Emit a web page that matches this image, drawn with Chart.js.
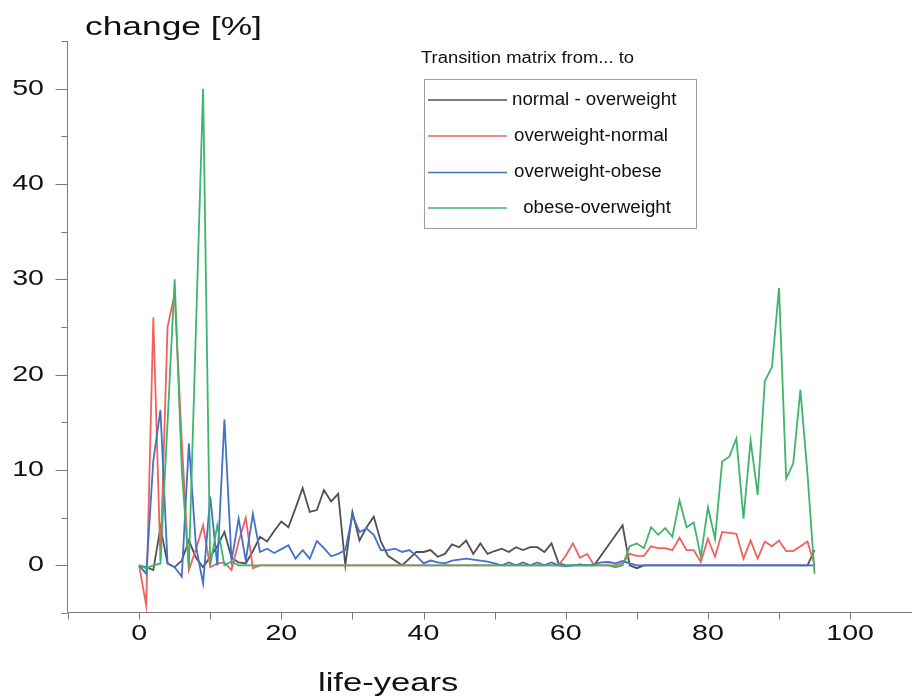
<!DOCTYPE html>
<html>
<head>
<meta charset="utf-8">
<script src="https://cdn.jsdelivr.net/npm/chart.js@4.4.1/dist/chart.umd.min.js"></script>
<style>
  body { margin: 0; background: #fff; }
  canvas { display: block; }
</style>
</head>
<body>
<canvas id="myChart" width="912" height="697"></canvas>
<script>
// life-years 0..95
const ages = Array.from({ length: 96 }, (_, i) => i);

const normalOverweight = [
  0, -0.2, -0.5, 4.0, 0.2, -0.2, 0.5, 2.6, 0.8, -0.2,
  0.9, 2.0, 3.5, 0.8, 0.3, 0.2, 1.5, 3.0, 2.5, 3.6,
  4.6, 4.0, 6.0, 8.1, 5.6, 5.8, 7.9, 6.7, 7.5, 0,
  5.6, 2.6, 4.0, 5.1, 2.5, 1.0, 0.5, 0, 0.7, 1.4,
  1.4, 1.6, 0.9, 1.2, 2.2, 1.9, 2.6, 1.2, 2.3, 1.2,
  1.5, 1.75, 1.4, 1.9, 1.6, 1.9, 1.9, 1.4, 2.3, 0.2,
  0, 0, 0, 0, 0, 1.05, 2.1, 3.15, 4.2, 0,
  -0.3, 0, 0, 0, 0, 0, 0, 0, 0, 0,
  0, 0, 0, 0, 0, 0, 0, 0, 0, 0,
  0, 0, 0, 0, 0, 1.6
];

const overweightNormal = [
  0, -4.2, 26, 0.5, 25, 28.5, 13, -0.5, 1.7, 4.2,
  -0.2, 0.2, 0.3, -0.5, 2.5, 5, -0.3, 0, 0, 0,
  0, 0, 0, 0, 0, 0, 0, 0, 0, 0,
  0, 0, 0, 0, 0, 0, 0, 0, 0, 0,
  0, 0, 0, 0, 0, 0, 0, 0, 0, 0,
  0, 0, 0, 0, 0, 0, 0, 0, 0, 0,
  1.0, 2.3, 0.8, 1.2, 0, 0, 0, 0, 0.2, 1.2,
  1.0, 1.0, 2.0, 1.8, 1.8, 1.6, 2.9, 1.6, 1.6, 0.35,
  2.8, 0.9, 3.5, 3.4, 3.3, 0.7, 2.6, 0.7, 2.5, 2.0,
  2.6, 1.5, 1.5, 2.0, 2.5, 0
];

const overweightObese = [
  0, -0.9, 11, 16.3, 0.2, -0.2, -1.2, 12.8, 2, -1.9,
  7.2, 0, 15.3, 0.5, 4.9, 0.5, 5.4, 1.4, 1.75, 1.3,
  1.7, 2.1, 0.7, 1.6, 0.7, 2.55, 1.8, 0.95, 1.2, 1.6,
  5.25, 3.5, 3.85, 3.2, 1.6, 1.6, 1.75, 1.4, 1.6, 1.0,
  0.2, 0.5, 0.3, 0.2, 0.5, 0.6, 0.7, 0.6, 0.5, 0.4,
  0.2, 0, 0.3, 0, 0.3, 0, 0.3, 0, 0.3, 0,
  -0.1, 0, 0.1, 0, 0.1, 0.3, 0.35, 0.2, 0.45, 0.2,
  0, 0, 0, 0, 0, 0, 0, 0, 0, 0,
  0, 0, 0, 0, 0, 0, 0, 0, 0, 0,
  0, 0, 0, 0, 0, 0
];

const obeseOverweight = [
  0, -0.3, 0, 0.2, 15, 30, 10, -0.3, 25, 50,
  0, 4.2, 0, 0.4, 0, 0, 0, 0, 0, 0,
  0, 0, 0, 0, 0, 0, 0, 0, 0, 0,
  0, 0, 0, 0, 0, 0, 0, 0, 0, 0,
  0, 0, 0, 0, 0, 0, 0, 0, 0, 0,
  0, 0, 0, 0, 0, 0, 0, 0, 0, 0,
  0, 0, 0, 0, 0, 0, 0, -0.2, 0, 2.0,
  2.3, 1.8, 4.0, 3.2, 3.9, 3.0, 6.8, 4.0, 4.5, 0.9,
  6.1, 2.8, 10.9, 11.4, 13.3, 4.9, 13.1, 7.4, 19.3, 20.8,
  29.1, 9.1, 10.7, 18.4, 9.6, -0.9
];

const seriesNames = ['normal - overweight', 'overweight-normal', 'overweight-obese', ' obese-overweight'];
const seriesColors = ['#505050', '#f26060', '#4272c8', '#3db56c'];
const legendTitle = 'Transition matrix from... to';
const yTitle = 'change [%]';
const xTitle = 'life-years';

const xTicks = [-10, 0, 10, 20, 30, 40, 50, 60, 70, 80, 90, 100];
const xTickLabels = ['0', '20', '40', '60', '80', '100'];
const yTicks = [-5, 0, 5, 10, 15, 20, 25, 30, 35, 40, 45, 50, 55];
const yTickLabels = ['0', '10', '20', '30', '40', '50'];

// text drawn a bit wider than the font, like the original picture
function wideText(ctx, text, x, y, sx, align) {
  ctx.save();
  ctx.translate(x, y);
  ctx.scale(sx, 1);
  ctx.textAlign = align;
  ctx.fillText(text, 0, 0);
  ctx.restore();
}

const decor = {
  id: 'decor',
  afterDraw(chart) {
    const ctx = chart.ctx;
    const a = chart.chartArea;
    const xs = chart.scales.x, ys = chart.scales.y;
    ctx.save();

    // axis lines and tick marks
    ctx.strokeStyle = '#7a7a7a';
    ctx.lineWidth = 1;
    ctx.beginPath();
    const left = Math.round(a.left) - 0.5;
    const bottom = Math.round(a.bottom) - 0.5;
    ctx.moveTo(left, a.top);
    ctx.lineTo(left, bottom);
    ctx.lineTo(a.right, bottom);
    yTicks.forEach(v => {
      const py = Math.round(ys.getPixelForValue(v)) + 0.5;
      const len = v % 10 === 0 ? 12 : 6;
      ctx.moveTo(left - len, py);
      ctx.lineTo(left, py);
    });
    xTicks.forEach(v => {
      const px = Math.round(xs.getPixelForValue(v)) + 0.5;
      ctx.moveTo(px, bottom);
      ctx.lineTo(px, bottom + 7);
    });
    ctx.stroke();

    // tick labels
    ctx.fillStyle = '#111';
    ctx.textBaseline = 'middle';
    ctx.font = '22px "Liberation Sans", Arial, sans-serif';
    yTickLabels.forEach(t => {
      wideText(ctx, t, 44, ys.getPixelForValue(Number(t)), 1.3, 'right');
    });
    xTickLabels.forEach(t => {
      wideText(ctx, t, xs.getPixelForValue(Number(t)), 634, 1.3, 'center');
    });

    // axis titles
    ctx.font = '26px "Liberation Sans", Arial, sans-serif';
    wideText(ctx, yTitle, 85, 28, 1.36, 'left');
    wideText(ctx, xTitle, 318, 684, 1.33, 'left');

    // legend
    ctx.font = '16px "Liberation Sans", Arial, sans-serif';
    wideText(ctx, legendTitle, 421, 59, 1.15, 'left');
    ctx.strokeStyle = '#a0a0a0';
    ctx.strokeRect(424.5, 79.5, 272, 149);
    const rowsY = [100, 136, 172.5, 208];
    const textX = [512, 514, 514, 518];
    ctx.font = '18px "Liberation Sans", Arial, sans-serif';
    seriesNames.forEach((name, i) => {
      ctx.strokeStyle = seriesColors[i];
      ctx.lineWidth = 1.5;
      ctx.beginPath();
      ctx.moveTo(428, rowsY[i]);
      ctx.lineTo(507, rowsY[i]);
      ctx.stroke();
      ctx.fillStyle = '#111';
      wideText(ctx, name, textX[i], rowsY[i], 1.04, 'left');
    });
    ctx.restore();
  }
};

const seriesData = [normalOverweight, overweightNormal, overweightObese, obeseOverweight];
const drawOrder = [4, 3, 2, 1];

const ctx = document.getElementById('myChart').getContext('2d');
const chart = new Chart(ctx, {
  type: 'line',
  data: {
    labels: ages,
    datasets: seriesData.map((vals, i) => ({
      label: seriesNames[i],
      data: vals.map((v, j) => ({ x: ages[j], y: v })),
      borderColor: seriesColors[i],
      borderWidth: 1.8,
      pointRadius: 0,
      tension: 0,
      fill: false,
      order: drawOrder[i]
    }))
  },
  options: {
    responsive: false,
    animation: false,
    devicePixelRatio: 1,
    layout: { padding: { top: 41, right: 0, left: 0, bottom: 0 } },
    plugins: {
      legend: { display: false },
      tooltip: { enabled: false }
    },
    scales: {
      x: {
        type: 'linear',
        min: -10,
        max: 108.7,
        grid: { display: false, drawTicks: false },
        border: { display: false },
        ticks: { display: false },
        afterFit: function(scale) { scale.height = 84; }
      },
      y: {
        min: -5,
        max: 55,
        grid: { display: false, drawTicks: false },
        border: { display: false },
        ticks: { display: false },
        afterFit: function(scale) { scale.width = 68; }
      }
    }
  },
  plugins: [decor]
});
</script>
</body>
</html>
